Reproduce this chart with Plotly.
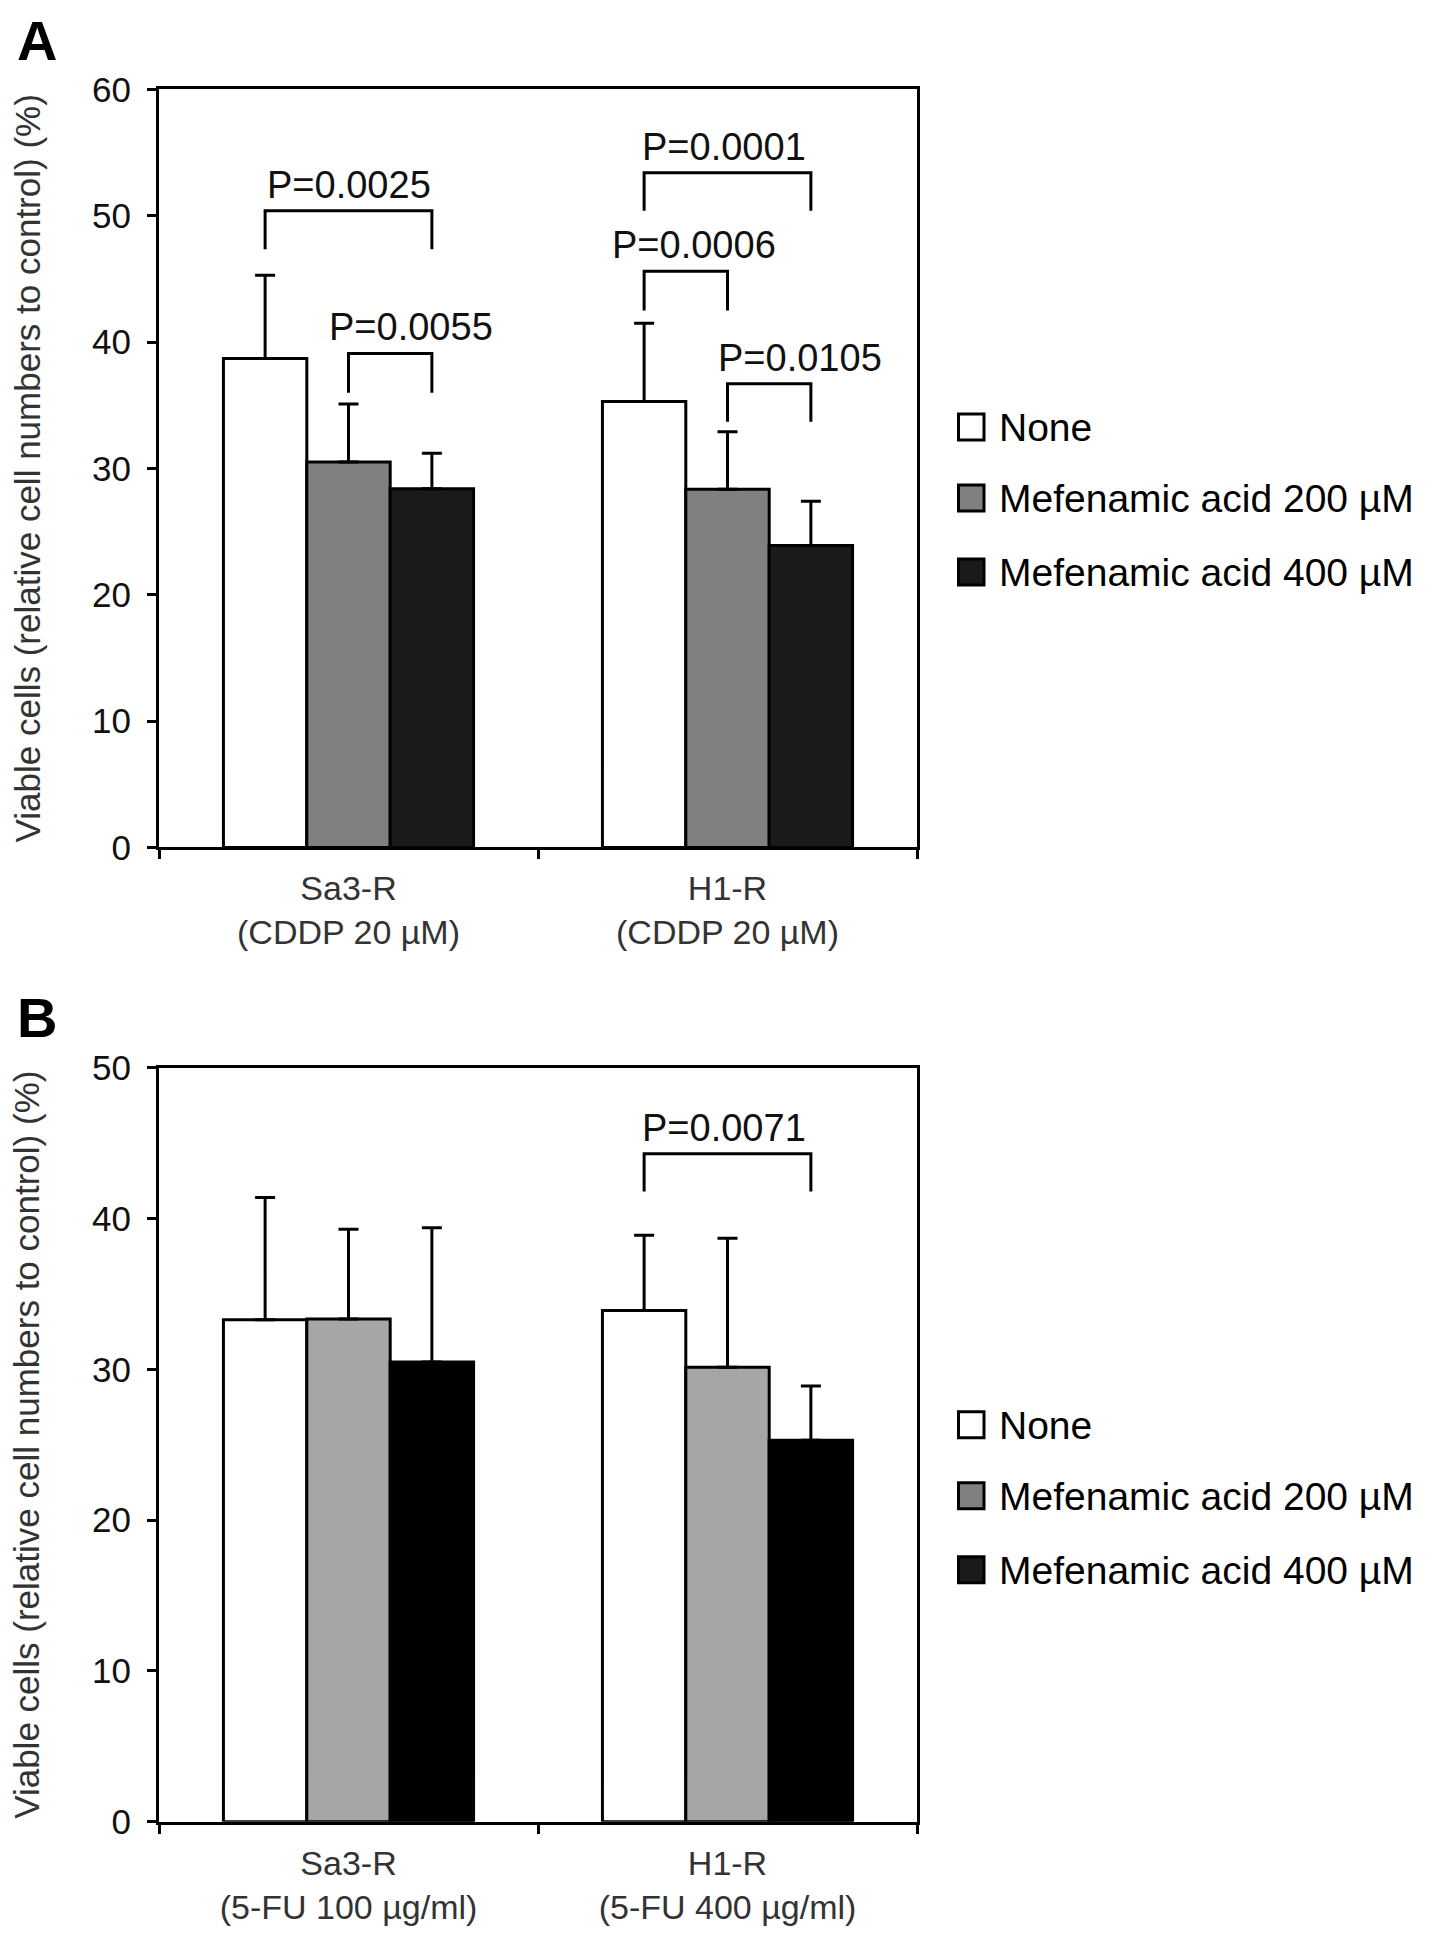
import plotly.graph_objects as go

# categories
treatments = ["None", "Mefenamic acid 200 µM", "Mefenamic acid 400 µM"]
groups_a = ["Sa3-R<br>(CDDP 20 µM)", "H1-R<br>(CDDP 20 µM)"]
groups_b = ["Sa3-R<br>(5-FU 100 µg/ml)", "H1-R<br>(5-FU 400 µg/ml)"]

# panel A: viable cells (%) and SD (upper bars only)
a_none = [38.7, 35.3]
a_mef200 = [30.5, 28.35]
a_mef400 = [28.4, 23.9]
a_none_sd = [6.6, 6.2]
a_mef200_sd = [4.6, 4.55]
a_mef400_sd = [2.8, 3.5]

# panel B
b_none = [33.3, 33.9]
b_mef200 = [33.35, 30.15]
b_mef400 = [30.5, 25.3]
b_none_sd = [8.1, 5.0]
b_mef200_sd = [5.95, 8.55]
b_mef400_sd = [8.9, 3.6]

# significance brackets: (group, bar from, bar to), top of bracket, end of legs
a_pairs = [(0, 0, 2), (0, 1, 2), (1, 0, 2), (1, 0, 1), (1, 1, 2)]
a_bracket_top = [50.4, 39.1, 53.4, 45.6, 36.7]
a_bracket_foot = [47.35, 36.0, 50.4, 42.5, 33.7]
a_pvalues = ["P=0.0025", "P=0.0055", "P=0.0001", "P=0.0006", "P=0.0105"]
a_label_shift = [0, 21, -4, 8, 31]

b_pairs = [(1, 0, 2)]
b_bracket_top = [44.3]
b_bracket_foot = [41.8]
b_pvalues = ["P=0.0071"]
b_label_shift = [-4]

colors_a = ["#ffffff", "#808080", "#1a1a1a"]
colors_b = ["#ffffff", "#a6a6a6", "#000000"]

# page has an 8px body margin; vertical positions get a small correction
# (SY, OY) so that the photographed page lines up with the original image
OFF = 8
FW, FH = 1441 - 2 * OFF, 1950
SY, OY = 1.0203, -20.6
BARGAP = 0.34
FONT = "Arial, Liberation Sans, sans-serif"


def px_x(v):
    return (v - OFF) / FW


def px_y(v):
    return 1 - (SY * v + OY - OFF) / FH


def bar_x(g, i):
    w = (1 - BARGAP) / 3
    return g + (i - 1) * w


fig = go.Figure()

panels = [
    ("x", "y", groups_a, [a_none, a_mef200, a_mef400],
     [a_none_sd, a_mef200_sd, a_mef400_sd], colors_a),
    ("x2", "y2", groups_b, [b_none, b_mef200, b_mef400],
     [b_none_sd, b_mef200_sd, b_mef400_sd], colors_b),
]

for xa, ya, groups, series, errs, cols in panels:
    for name, vals, sd, c in zip(treatments, series, errs, cols):
        fig.add_trace(go.Bar(
            x=groups, y=vals, name=name, xaxis=xa, yaxis=ya,
            marker=dict(color=c, line=dict(color="black", width=3)),
            error_y=dict(type="data", array=sd, arrayminus=[0] * len(sd),
                         symmetric=False, color="black", thickness=3, width=10),
            showlegend=False,
        ))

shapes = []
annotations = []
for xref, yref, pairs, tops, feet, labels, shifts in [
    ("x", "y", a_pairs, a_bracket_top, a_bracket_foot, a_pvalues, a_label_shift),
    ("x2", "y2", b_pairs, b_bracket_top, b_bracket_foot, b_pvalues, b_label_shift),
]:
    for (g, i, j), top, foot, lab, sh in zip(pairs, tops, feet, labels, shifts):
        x0, x1 = bar_x(g, i), bar_x(g, j)
        shapes.append(dict(
            type="path", xref=xref, yref=yref,
            path=f"M {x0},{foot} L {x0},{top} L {x1},{top} L {x1},{foot}",
            line=dict(color="black", width=3),
        ))
        annotations.append(dict(
            x=(x0 + x1) / 2, y=top, xref=xref, yref=yref, text=lab,
            showarrow=False, xanchor="center", yanchor="bottom", xshift=sh, yshift=3,
            font=dict(family=FONT, size=38, color="#111111"),
        ))

# legends (large square swatches like the original), one beside each panel
for item_y in [[427, 498, 572], [1425, 1496, 1570]]:
    for name, c, yy in zip(treatments, colors_a, item_y):
        shapes.append(dict(
            type="rect", xref="paper", yref="paper",
            x0=px_x(958.5), x1=px_x(984), y0=px_y(yy - 13), y1=px_y(yy + 13),
            fillcolor=c, line=dict(color="black", width=3),
        ))
        annotations.append(dict(
            x=px_x(997), y=px_y(yy + 1), xref="paper", yref="paper", text=name,
            showarrow=False, xanchor="left", yanchor="middle",
            font=dict(family=FONT, size=39, color="black"),
        ))

# panel letters and y-axis titles
ytitle = "Viable cells (relative cell numbers to control) (%)"
for letter, ly, ty in [("A", 41, 468.5), ("B", 1017.5, 1445)]:
    annotations.append(dict(
        x=px_x(37), y=px_y(ly), xref="paper", yref="paper", text=f"<b>{letter}</b>",
        showarrow=False, xanchor="center", yanchor="middle",
        font=dict(family=FONT, size=56, color="black"),
    ))
    annotations.append(dict(
        x=px_x(27), y=px_y(ty), xref="paper", yref="paper", text=ytitle,
        showarrow=False, textangle=-90, xanchor="center", yanchor="middle",
        font=dict(family=FONT, size=35, color="#333333"),
    ))

xstyle = dict(
    type="category", range=[-0.5, 1.5], showline=True, mirror=True, linewidth=3,
    linecolor="black", ticks="outside", tickson="boundaries", ticklen=9, tickwidth=3,
    tickcolor="black", showgrid=False, zeroline=False, ticklabelstandoff=9,
    tickfont=dict(family=FONT, size=34, color="#333333"),
)
ystyle = dict(
    showline=True, mirror=True, linewidth=3, linecolor="black", ticks="outside",
    ticklen=9, tickwidth=3, tickcolor="black", showgrid=False, zeroline=False,
    ticklabelstandoff=9, tickfont=dict(family=FONT, size=35, color="#111111"),
)

fig.update_layout(
    width=FW, height=FH, autosize=False,
    margin=dict(l=0, r=0, t=0, b=0),
    paper_bgcolor="white", plot_bgcolor="white",
    barmode="group", bargap=BARGAP, bargroupgap=0,
    showlegend=False,
    xaxis=dict(xstyle, domain=[px_x(159), px_x(917)], anchor="y"),
    yaxis=dict(ystyle, domain=[px_y(847.5), px_y(89.5)], range=[0, 60], dtick=10, anchor="x"),
    xaxis2=dict(xstyle, domain=[px_x(159), px_x(917)], anchor="y2"),
    yaxis2=dict(ystyle, domain=[px_y(1822), px_y(1068)], range=[0, 50], dtick=10, anchor="x2"),
    shapes=shapes,
    annotations=annotations,
    font=dict(family=FONT, color="black"),
)

fig.write_html("out.html")
